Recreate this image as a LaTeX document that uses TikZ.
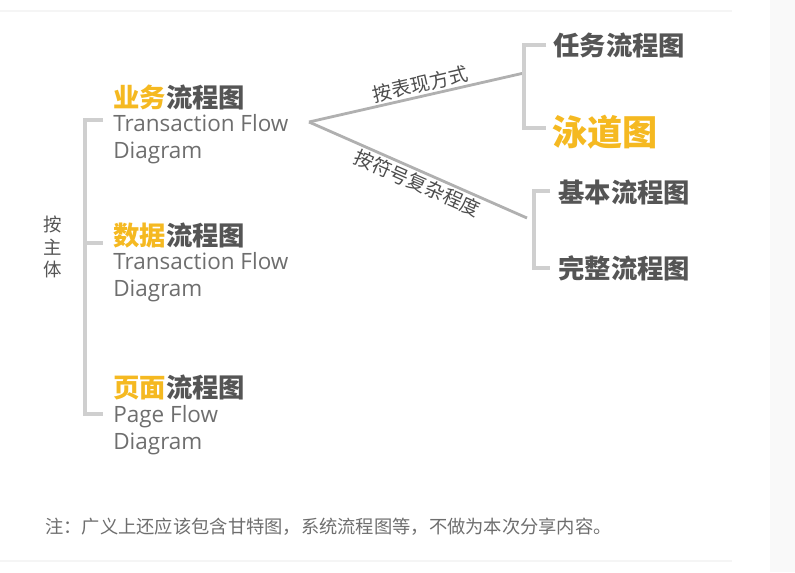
\documentclass[tikz,border=0pt]{standalone}
\usepackage{fontspec}
\setmainfont{Open Sans}
\newfontfamily\cjk{Noto Sans CJK SC}
\usetikzlibrary{positioning}

\definecolor{accent}{HTML}{F5B921}
\definecolor{ink}{HTML}{555555}
\definecolor{subink}{HTML}{6E6E6E}
\definecolor{rulegray}{HTML}{CFCFCF}

\begin{document}
\begin{tikzpicture}[x=0.02cm, y=-0.02cm,
  title/.style={anchor=west, inner sep=0pt, text=ink, font=\cjk\bfseries\fontsize{15}{18}\selectfont},
  subtitle/.style={anchor=west, inner sep=0pt, text=subink, align=left, font=\fontsize{12.8}{15.5}\selectfont},
  bigtitle/.style={title, font=\cjk\bfseries\fontsize{20}{24}\selectfont, text=accent},
  branchlabel/.style={inner sep=1pt, text=ink!90!black, font=\cjk\fontsize{11}{13}\selectfont, sloped},
  bracket/.style={draw=rulegray, line width=2.2pt},
  branch/.style={draw=rulegray!85!black, line width=1.6pt}
]
  \useasboundingbox (0,0) rectangle (795,572);
  % faint page edges
  \fill[gray!5] (770,0) rectangle (795,572);
  \draw[gray!8, line width=0.6pt] (0,11) -- (732,11);
  \draw[gray!8, line width=0.6pt] (0,561) -- (732,561);

  % left group
  \node[anchor=center, inner sep=0pt, text=ink, align=center, font=\cjk\fontsize{10.5}{13}\selectfont] (subject) at (53,247) {按\\主\\体};
  \draw[bracket] (103,120) -- (85,120) -- (85,414) -- (103,414);
  \draw[bracket] (85,243) -- (103,243);

  \node[title] (biz) at (113,97) {\textcolor{accent}{业务}流程图};
  \node[subtitle] (bizsub) at (113,139) {Transaction Flow\\Diagram};
  \node[title] (data) at (113,236) {\textcolor{accent}{数据}流程图};
  \node[subtitle] (datasub) at (113,277) {Transaction Flow\\Diagram};
  \node[title] (page) at (113,387) {\textcolor{accent}{页面}流程图};
  \node[subtitle] (pagesub) at (113,430) {Page Flow\\Diagram};

  % branches
  \coordinate (split) at (309,122);
  \coordinate (upper) at (524,73);
  \coordinate (lower) at (527,218);
  \draw[branch] (split) -- node[branchlabel, above, pos=0.53] {按表现方式} (upper);
  \draw[branch] (split) -- node[branchlabel, below, pos=0.52] {按符号复杂程度} (lower);

  \draw[bracket] (546,45) -- (524,45) -- (524,128) -- (546,128);
  \draw[bracket] (550,191) -- (534,191) -- (534,268) -- (550,268);

  \node[title] (task) at (553,45) {任务流程图};
  \node[bigtitle] (swim) at (552,132) {泳道图};
  \node[title] (basic) at (558,192) {基本流程图};
  \node[title] (full) at (558,268) {完整流程图};

  % note
  \node[anchor=west, inner sep=0pt, text=subink, font=\cjk\fontsize{10.4}{12}\selectfont] (note) at (45,527)
    {注：广义上还应该包含甘特图，系统流程图等，不做为本次分享内容。};
\end{tikzpicture}
\end{document}
